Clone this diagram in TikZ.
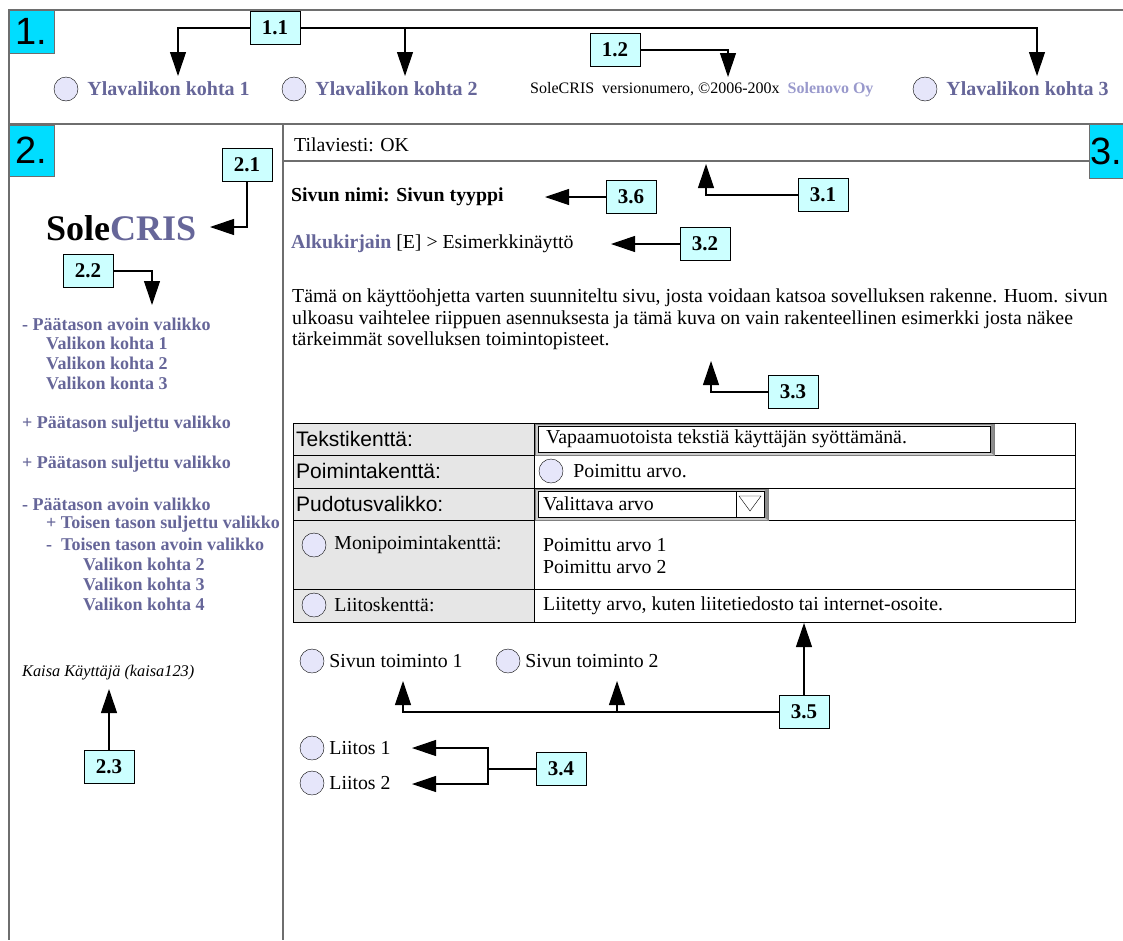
\documentclass[tikz,border=0pt]{standalone}
\usepackage{fontspec}
\setmainfont{Liberation Serif}
\newfontfamily\arialfont{Liberation Sans}
\usetikzlibrary{arrows.meta,positioning}
\definecolor{menublue}{RGB}{102,102,153}
\definecolor{lightmenu}{RGB}{153,153,204}
\definecolor{labelcyan}{RGB}{204,255,255}
\definecolor{panelcyan}{RGB}{0,221,255}
\definecolor{radiofill}{RGB}{230,230,250}
\definecolor{cellgray}{RGB}{230,230,230}
\definecolor{framegray}{RGB}{110,110,110}
\newcommand{\appname}{Sole\textcolor{menublue}{CRIS}}

\begin{document}
\begin{tikzpicture}[x=1pt,y=-1pt,
	frame/.style={draw=framegray,line width=1.5pt},
	panelno/.style={draw=framegray,fill=panelcyan,anchor=north west,inner sep=0pt,
		font=\arialfont\fontsize{38}{38}\selectfont},
	numbox/.style={draw,fill=labelcyan,minimum width=50pt,minimum height=33pt,inner sep=0pt,
		font=\fontsize{21}{21}\selectfont\bfseries},
	callout/.style={-{Triangle[length=24pt,width=16pt]},line width=1.1pt},
	radio/.style={circle,draw,fill=radiofill,minimum size=24pt,inner sep=0pt},
	topitem/.style={inner sep=0pt,text=menublue,font=\fontsize{20}{20}\selectfont\bfseries},
	menuitem/.style={anchor=west,inner sep=0pt,text=menublue,font=\fontsize{18}{18}\selectfont\bfseries},
	plain/.style={anchor=west,inner sep=0pt,font=\fontsize{19.8}{19.8}\selectfont},
	formlabel/.style={anchor=west,inner sep=0pt,font=\arialfont\fontsize{21}{21}\selectfont}]
\useasboundingbox (0,0) rectangle (1123,940);
\fill[white] (0,0) rectangle (1123,940);

% frames
\draw[frame] (1123,10) -- (9,10) -- (9,940);
\draw[frame] (9,124) -- (1123,124);
\draw[frame] (283,124) -- (283,940);
\draw[frame] (283,161) -- (1089,161);

% 1. top menu
\node[panelno,minimum width=45pt,minimum height=43pt] (p1) at (9,10) {1.};
\node[numbox] (n11) at (275,28) {1.1};
\node[numbox] (n12) at (615,50) {1.2};
\node[radio] (r1) at (66,89) {};
\node[topitem,right=9pt of r1] (y1) {Ylavalikon kohta 1};
\node[radio] (r2) at (294,89) {};
\node[topitem,right=9pt of r2] (y2) {Ylavalikon kohta 2};
\node[anchor=west,inner sep=0pt,font=\fontsize{16}{16}\selectfont] (ver) at (530,90)
	{SoleCRIS\ \ versionumero, ©2006-200x\ \ \textcolor{lightmenu}{\bfseries Solenovo Oy}};
\node[radio] (r3) at (925,89) {};
\node[topitem,right=9pt of r3] (y3) {Ylavalikon kohta 3};
\coordinate (t11a) at (178,76);
\coordinate (t11b) at (405,76);
\coordinate (t11c) at (1037,76);
\coordinate (t12) at (728,77);
\draw[callout] (n11.west) -| (t11a);
\draw[callout] (n11.east) -| (t11b);
\draw[callout] (n11.east) -| (t11c);
\draw[callout] (n12.east) -| (t12);

% 2. side menu
\node[panelno,minimum width=45pt,minimum height=51pt] (p2) at (9,125) {2.};
\node[numbox] (n21) at (247,165) {2.1};
\node[anchor=west,inner sep=0pt,font=\fontsize{36}{36}\selectfont\bfseries] (logo) at (46,228) {\appname};
\coordinate (t21) at (210,227);
\draw[callout] (n21.south) |- (t21);
\node[numbox] (n22) at (88,271) {2.2};
\coordinate (t22) at (152,305);
\draw[callout] (n22.east) -| (t22);
\node[menuitem] (m1) at (22,324) {- Päätason avoin valikko};
\node[menuitem] (m2) at (46,343) {Valikon kohta 1};
\node[menuitem] (m3) at (46,363) {Valikon kohta 2};
\node[menuitem] (m4) at (46,383) {Valikon konta 3};
\node[menuitem] (m5) at (22,424) {+ Päätason suljettu valikko};
\node[menuitem] (m6) at (22,464) {+ Päätason suljettu valikko};
\node[menuitem] (m7) at (22,504) {- Päätason avoin valikko};
\node[menuitem] (m8) at (46,524) {+ Toisen tason suljettu valikko};
\node[menuitem] (m9) at (46,544) {-\ \ Toisen tason avoin valikko};
\node[menuitem] (m10) at (83,564) {Valikon kohta 2};
\node[menuitem] (m11) at (83,584) {Valikon kohta 3};
\node[menuitem] (m12) at (83,604) {Valikon kohta 4};
\node[anchor=west,inner sep=0pt,font=\fontsize{16.3}{16.3}\selectfont\itshape] (user) at (22,673) {Kaisa Käyttäjä (kaisa123)};
\node[numbox] (n23) at (109,767) {2.3};
\coordinate (t23) at (109,689);
\draw[callout] (n23.north) -- (t23);

% 3. page content
\node[plain] (status) at (294,145) {Tilaviesti: OK};
\node[panelno,minimum width=34pt,minimum height=54pt] (p3) at (1089,124) {3.};
\node[plain,font=\fontsize{19.8}{19.8}\selectfont\bfseries] (title) at (291,197) {Sivun nimi: Sivun tyyppi};
\node[numbox] (n36) at (631,197) {3.6};
\coordinate (t36) at (545,197);
\draw[callout] (n36.west) -- (t36);
\node[numbox] (n31) at (823,195) {3.1};
\coordinate (t31) at (706,164);
\draw[callout] (n31.west) -| (t31);
\node[plain] (crumb) at (291,244) {\textcolor{menublue}{\bfseries Alkukirjain} [E] > Esimerkkinäyttö};
\node[numbox] (n32) at (705,244) {3.2};
\coordinate (t32) at (611,244);
\draw[callout] (n32.west) -- (t32);
\node[plain] (txt1) at (292,298) {Tämä on käyttöohjetta varten suunniteltu sivu, josta voidaan katsoa sovelluksen rakenne. Huom. sivun};
\node[plain] (txt2) at (292,320) {ulkoasu vaihtelee riippuen asennuksesta ja tämä kuva on vain rakenteellinen esimerkki josta näkee};
\node[plain] (txt3) at (292,341) {tärkeimmät sovelluksen toimintopisteet.};
\node[numbox] (n33) at (793,392) {3.3};
\coordinate (t33) at (711,361);
\draw[callout] (n33.west) -| (t33);

% form
\draw[fill=cellgray] (293,423) rectangle (534,622);
\draw[fill=white] (534,423) rectangle (1075,622);
\draw (293,455) -- (1075,455) (293,488) -- (1075,488) (293,520) -- (1075,520) (293,589) -- (1075,589);
\draw[gray,fill=black!20] (535,424) rectangle (994,455);
\draw[fill=black!45,draw=none] (990,426) -- (994,424) -- (994,455) -- (990,452) -- cycle;
\draw[fill=white] (538,426) rectangle (990,452);
\draw[gray,fill=black!20] (535,489) rectangle (768,520);
\draw[fill=black!45,draw=none] (764,491) -- (768,489) -- (768,520) -- (764,517) -- cycle;
\draw[fill=white] (538,491) rectangle (764,517);
\draw (736,491) -- (736,517);
\draw (739,496) -- (761,496) -- (750,511) -- cycle;
\node[formlabel] (f1) at (296,439) {Tekstikenttä:};
\node[formlabel] (f2) at (296,471) {Poimintakenttä:};
\node[formlabel] (f3) at (296,504) {Pudotusvalikko:};
\node[radio] (rf4) at (314,545) {};
\node[plain,right=8pt of rf4] (f4) {Monipoimintakenttä:};
\node[radio] (rf5) at (314,605) {};
\node[plain,right=8pt of rf5] (f5) {Liitoskenttä:};
\node[plain] (v1) at (546,439) {Vapaamuotoista tekstiä käyttäjän syöttämänä.};
\node[radio] (rv2) at (551,471) {};
\node[plain,right=10pt of rv2] (v2) {Poimittu arvo.};
\node[plain] (v3) at (543,504) {Valittava arvo};
\node[plain] (v4a) at (543,545) {Poimittu arvo 1};
\node[plain] (v4b) at (543,567) {Poimittu arvo 2};
\node[plain] (v5) at (543,606) {Liitetty arvo, kuten liitetiedosto tai internet-osoite.};

% actions and links
\node[radio] (a1) at (312,661) {};
\node[plain,right=5pt of a1] (act1) {Sivun toiminto 1};
\node[radio] (a2) at (508,661) {};
\node[plain,right=5pt of a2] (act2) {Sivun toiminto 2};
\node[numbox] (n35) at (804,712) {3.5};
\coordinate (t35a) at (403,681);
\coordinate (t35b) at (617,681);
\coordinate (t35c) at (804,623);
\draw[callout] (n35.west) -| (t35a);
\draw[callout] (n35.west) -| (t35b);
\draw[callout] (n35.north) -- (t35c);
\node[radio] (l1) at (312,748) {};
\node[plain,right=5pt of l1] (link1) {Liitos 1};
\node[radio] (l2) at (312,783) {};
\node[plain,right=5pt of l2] (link2) {Liitos 2};
\node[numbox] (n34) at (561,769) {3.4};
\coordinate (j34) at (488,769);
\coordinate (t34a) at (412,748);
\coordinate (t34b) at (412,784);
\draw[line width=1.1pt] (n34.west) -- (j34);
\draw[callout] (j34) |- (t34a);
\draw[callout] (j34) |- (t34b);
\end{tikzpicture}
\end{document}
